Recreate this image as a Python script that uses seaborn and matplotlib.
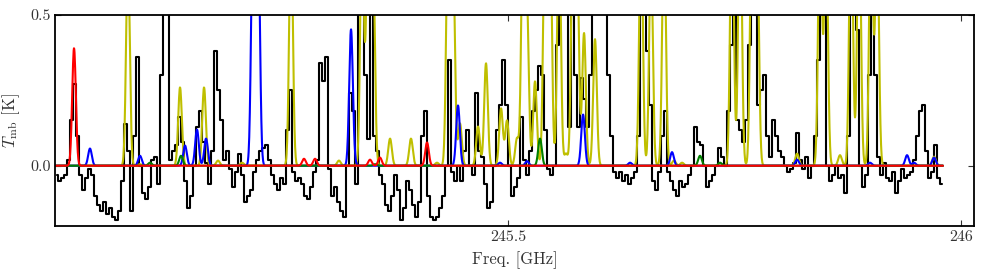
import numpy as np
import pandas as pd
import matplotlib
matplotlib.use("Agg")
import matplotlib.pyplot as plt
import seaborn as sns

# ---------------- data ----------------
# observed spectrum (K), regular channels
freq_start = 245.0022
chan_width = 0.00331
obs_T = [
    -0.03, -0.05, -0.04, -0.03, 0.02, 0.15, 0.27, 0.10, -0.03, -0.08,
    -0.04, -0.01, -0.03, -0.10, -0.13, -0.15, -0.12, -0.16, -0.14, -0.17,
    -0.18, -0.15, -0.05, 0.14, 0.05, -0.15, 0.10, 0.36, 0.00, -0.09,
    -0.11, -0.07, 0.02, 0.03, -0.06, 0.30, 0.55, 0.60, 0.02, 0.05,
    0.07, 0.16, 0.08, -0.05, -0.14, -0.10, 0.00, 0.13, 0.18, 0.08,
    0.01, -0.06, 0.05, 0.38, 0.25, 0.15, 0.02, 0.05, -0.01, -0.07,
    -0.02, 0.04, -0.03, -0.12, -0.10, -0.08, -0.02, 0.02, 0.05, 0.06,
    0.07, 0.02, -0.03, -0.06, -0.08, -0.04, -0.06, 0.12, 0.25, -0.02,
    -0.05, -0.04, -0.06, -0.10, -0.11, -0.07, -0.02, 0.02, 0.34, 0.28,
    0.36, -0.01, -0.10, -0.07, -0.12, -0.15, -0.17, 0.00, 0.24, 0.18,
    -0.06, 0.55, 0.60, 0.30, 0.09, 0.55, 0.10, 0.05, -0.03, -0.06,
    -0.13, -0.15, -0.10, -0.03, -0.08, -0.18, -0.14, -0.05, -0.08, -0.13,
    -0.17, -0.12, 0.10, 0.18, -0.10, -0.17, -0.18, -0.17, -0.14, -0.10,
    0.00, 0.35, -0.02, -0.05, 0.00, -0.05, 0.05, 0.12, 0.00, -0.03,
    0.24, 0.05, 0.03, -0.06, -0.14, -0.12, 0.00, 0.12, 0.20, 0.35,
    0.20, 0.00, -0.10, -0.07, -0.04, 0.16, 0.02, -0.03, 0.05, 0.18,
    0.25, 0.33, 0.30, 0.12, -0.01, -0.03, 0.00, 0.40, 0.55, 0.60,
    0.55, 0.13, 0.50, 0.30, 0.13, 0.29, 0.22, 0.13, 0.30, 0.55,
    0.60, 0.60, 0.60, 0.55, 0.30, 0.10, -0.02, -0.04, -0.02, -0.05,
    -0.03, -0.06, -0.04, -0.02, 0.10, 0.55, 0.60, 0.38, 0.20, -0.05,
    -0.08, -0.02, 0.10, 0.18, -0.02, -0.05, -0.08, -0.10, -0.05, -0.07,
    -0.06, -0.03, 0.00, 0.13, 0.08, 0.07, 0.00, -0.07, -0.05, -0.03,
    0.00, 0.06, 0.03, 0.00, 0.18, 0.40, 0.60, 0.15, 0.12, 0.08,
    0.15, 0.40, 0.60, 0.50, 0.20, 0.25, 0.30, 0.10, 0.03, 0.15,
    0.10, 0.05, 0.03, 0.00, -0.02, -0.01, 0.01, 0.11, 0.02, -0.01,
    0.03, -0.04, 0.00, 0.10, 0.35, 0.60, 0.55, 0.00, -0.05, -0.03,
    0.00, -0.04, -0.03, -0.09, 0.10, 0.55, 0.60, 0.45, 0.00, -0.07,
    -0.03, 0.30, 0.60, 0.30, 0.03, -0.03, 0.01, -0.04, -0.05, -0.02,
    -0.09, -0.05, -0.01, -0.04, -0.03, -0.02, 0.02, 0.10, 0.18, 0.20,
    0.05, -0.04, -0.02, 0.07, -0.04, -0.06,
]

# model line lists: centre frequency (GHz) and peak (K)
yellow_freq = [245.0805, 245.0938, 245.1380, 245.1645, 245.1799, 245.2064,
               245.2605, 245.3134, 245.3389, 245.3455, 245.3510, 245.3698,
               245.3929, 245.4216, 245.4338, 245.4393, 245.4470, 245.4669,
               245.4757, 245.4923, 245.4989, 245.5099, 245.5166, 245.5210,
               245.5298, 245.5408, 245.5464, 245.5563, 245.5640, 245.5717,
               245.5762, 245.5839, 245.5960, 245.6468, 245.6578, 245.6722,
               245.6832, 245.6921, 245.7472, 245.7561, 245.7693, 245.7748,
               245.8190, 245.8444, 245.8510, 245.8664, 245.8786, 245.8874,
               245.9007, 245.9073, 245.9702]
yellow_peak = [0.70, 0.005, 0.26, 0.26, 0.017, 0.010,
               0.80, 0.017, 0.80, 0.80, 0.70, 0.09,
               0.09, 0.010, 0.80, 0.70, 0.14, 0.13,
               0.34, 0.19, 0.15, 0.09, 0.80, 0.50,
               0.28, 0.80, 0.80, 0.80, 0.04, 0.80,
               0.70, 0.44, 0.42, 0.80, 0.70, 0.80,
               0.017, 0.010, 0.90, 0.90, 0.90, 0.80,
               0.04, 0.90, 0.80, 0.035, 0.90, 0.90,
               0.90, 0.80, 0.03]

blue_freq = [245.0386, 245.0938, 245.1435, 245.1567, 245.1667, 245.2185,
             245.2241, 245.3267, 245.3300, 245.4448, 245.4912, 245.5210,
             245.5828, 245.6347, 245.6810, 245.8190, 245.8995, 245.9404,
             245.9481, 245.9702]
blue_peak = [0.057, 0.033, 0.067, 0.12, 0.09, 0.80,
             0.80, 0.45, 0.010, 0.20, 0.010, 0.015,
             0.17, 0.010, 0.045, 0.020, 0.010, 0.035,
             0.010, 0.027]

green_freq = [245.1049, 245.1391, 245.3532, 245.5353, 245.7119, 245.7340]
green_peak = [0.010, 0.033, 0.005, 0.09, 0.033, 0.010]

red_freq = [245.0210, 245.2748, 245.2870, 245.3477, 245.3587, 245.4106]
red_peak = [0.39, 0.023, 0.023, 0.020, 0.027, 0.077]

line_sigma = 0.002  # GHz
model_lo, model_hi = 245.0, 245.98

# ---------------- build tables ----------------
obs_freq = freq_start + chan_width * np.arange(len(obs_T))
obs = pd.DataFrame({"freq": obs_freq, "T": obs_T})

grid = np.linspace(model_lo, model_hi, 3000)


def model(freqs, peaks):
    f = np.asarray(freqs)[:, None]
    p = np.asarray(peaks)[:, None]
    return (p * np.exp(-0.5 * ((grid[None, :] - f) / line_sigma) ** 2)).sum(axis=0)


models = [
    (yellow_freq, yellow_peak, "#bfbf00"),
    (blue_freq, blue_peak, "#0000ff"),
    (green_freq, green_peak, "#008000"),
    (red_freq, red_peak, "#ff0000"),
]

# ---------------- plot ----------------
sns.set_style("ticks")
plt.rcParams["font.family"] = ["cmr10", "DejaVu Serif"]
plt.rcParams["mathtext.fontset"] = "cm"
plt.rcParams["axes.unicode_minus"] = False
plt.rcParams["axes.formatter.use_mathtext"] = True

fig = plt.figure(figsize=(9.81, 2.75), dpi=100)
ax = fig.add_axes([55 / 981, 1 - 226 / 275, (974 - 55) / 981, (226 - 15) / 275])

sns.lineplot(data=obs, x="freq", y="T", color="k", lw=1.5,
             drawstyle="steps-mid", ax=ax, sort=False, estimator=None)
for fr, pk, col in models:
    df = pd.DataFrame({"freq": grid, "T": model(fr, pk)})
    sns.lineplot(data=df, x="freq", y="T", color=col, lw=1.5, ax=ax,
                 sort=False, estimator=None)

ax.set_xlim(245.0, 246.0143)
ax.set_ylim(-0.2, 0.5)
ax.set_xticks([245.5, 246.0])
ax.set_xticklabels(["245.5", "246"])
ax.set_yticks([0.0, 0.5])
ax.set_yticklabels(["0.0", "0.5"])
ax.tick_params(direction="in", top=True, right=True, length=4, width=0.8,
               labelsize=11.5, colors="#333333", labelcolor="#333333", pad=3)
for s in ax.spines.values():
    s.set_visible(True)
    s.set_linewidth(1.3)
    s.set_color("k")

ax.set_xlabel("Freq. [GHz]", fontsize=12, color="#333333", labelpad=5)
ax.set_ylabel(r"$T_{\rm mb}$ [K]", fontsize=12, color="#333333")
ax.yaxis.set_label_coords(-0.036, 0.5)

fig.savefig("out.png", dpi=100)
